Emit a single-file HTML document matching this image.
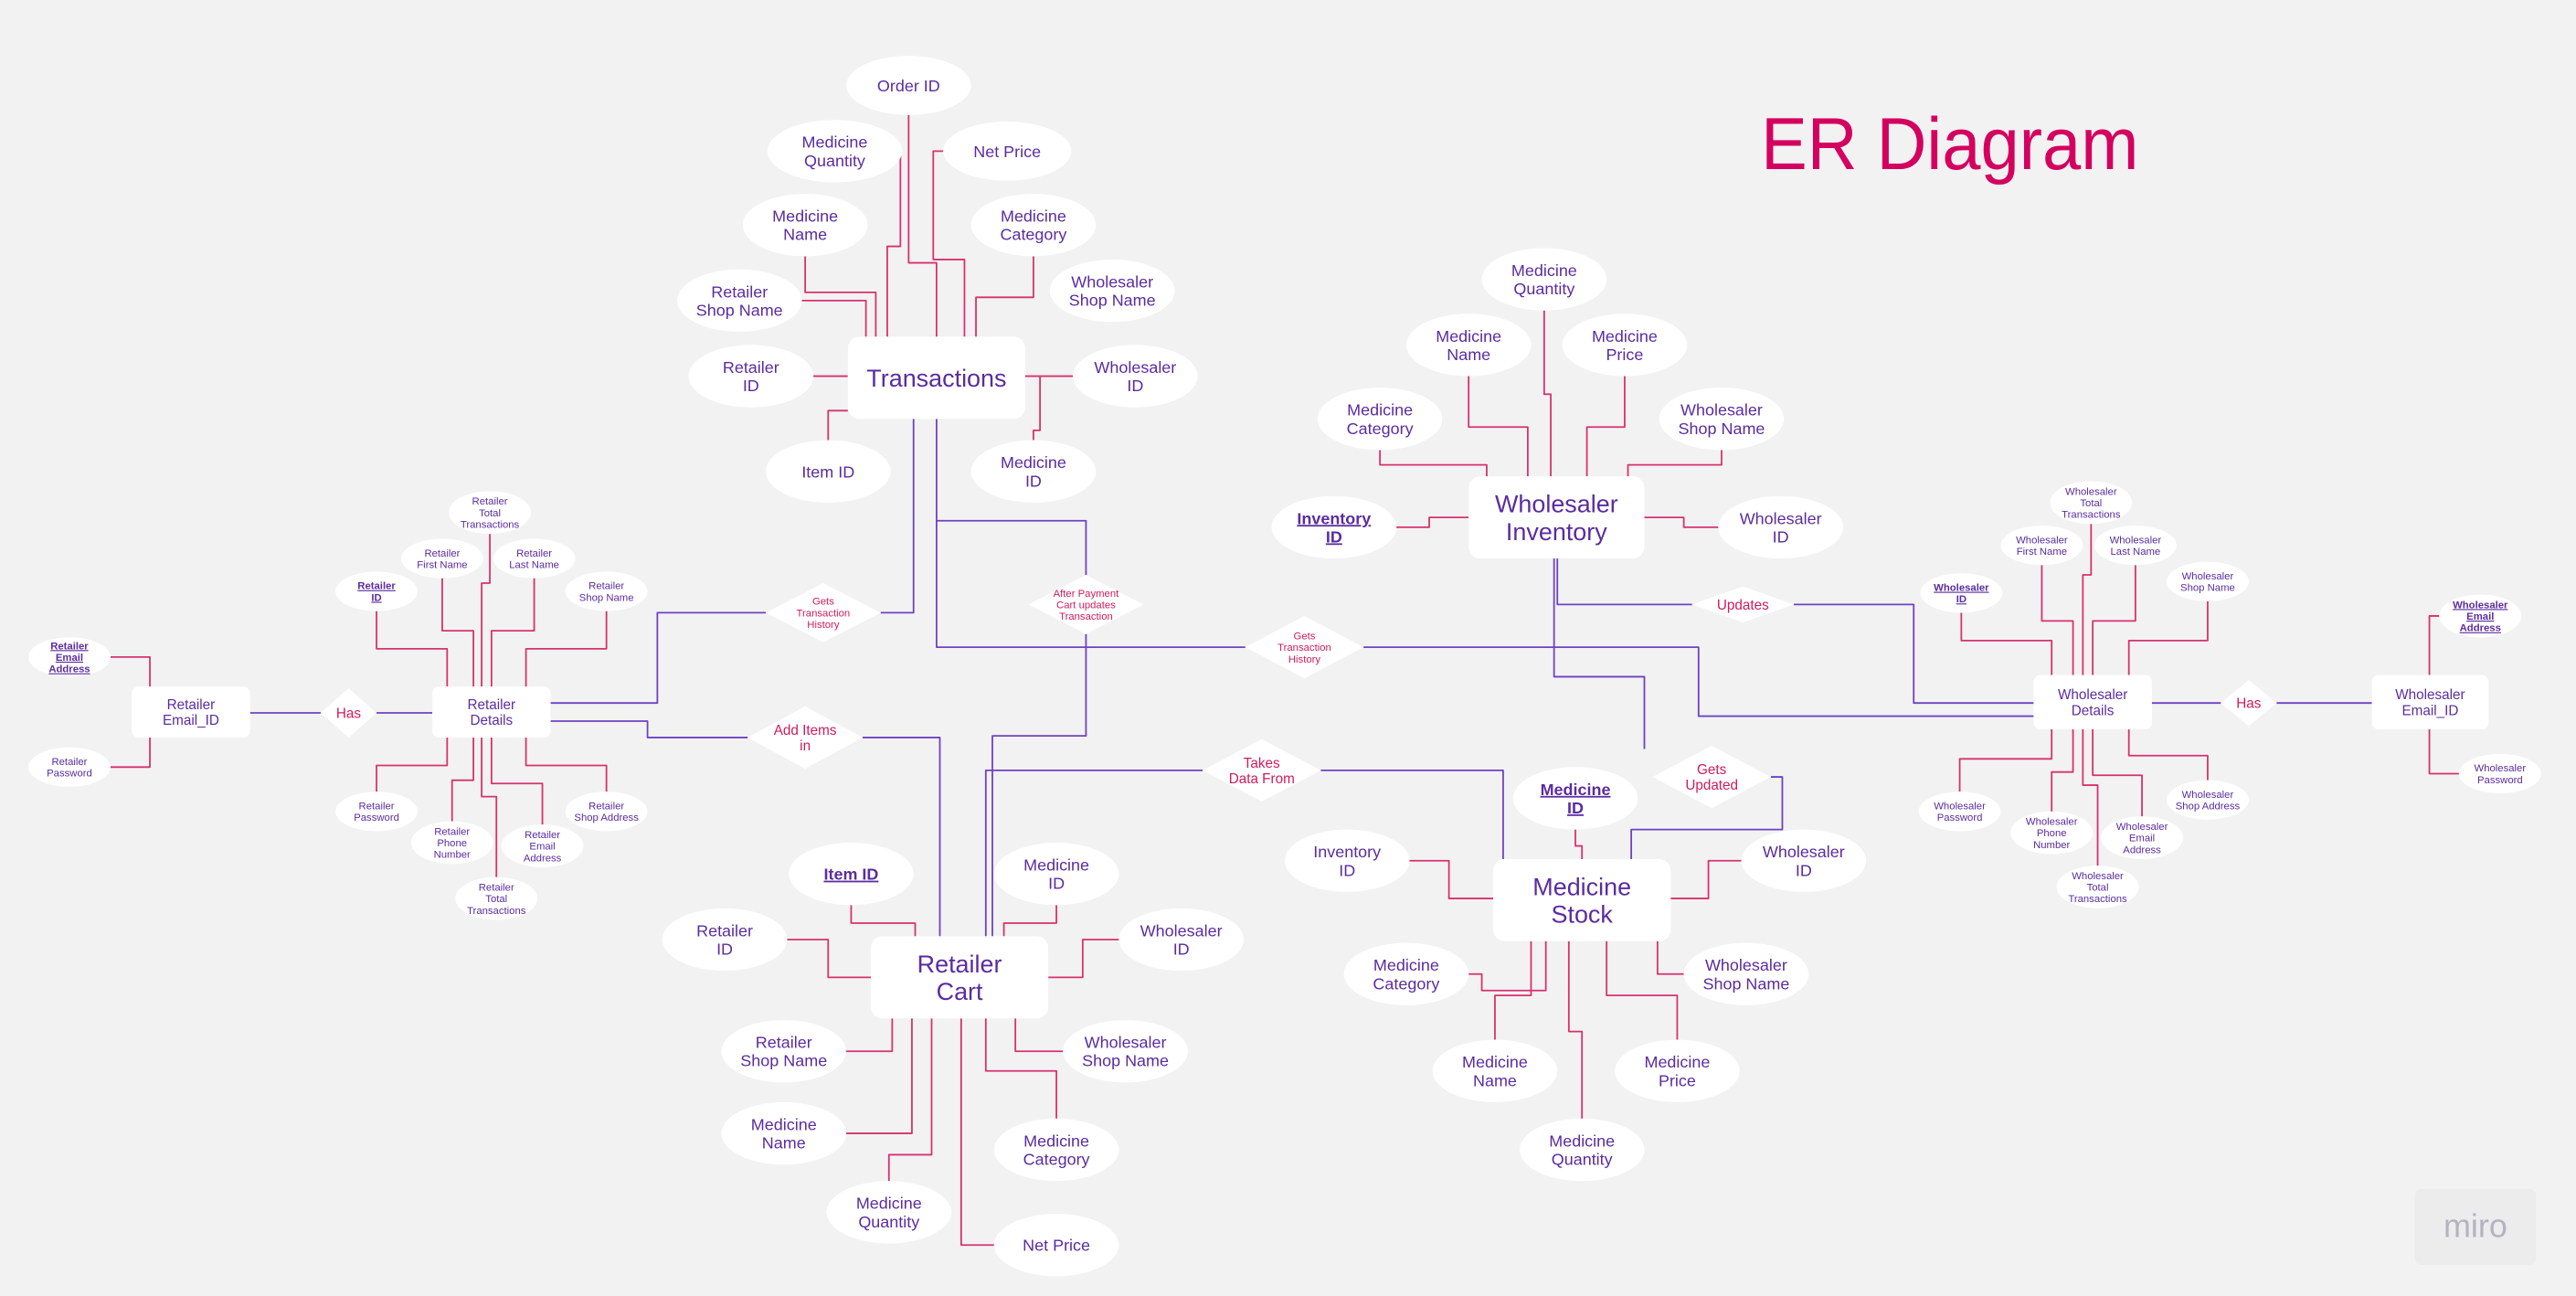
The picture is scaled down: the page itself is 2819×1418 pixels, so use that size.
<!DOCTYPE html>
<html><head><meta charset="utf-8">
<style>
html,body{margin:0;padding:0;background:#f2f2f2;}
svg{display:block;}
text{font-family:"Liberation Sans",sans-serif;}
</style></head>
<body>
<svg id="er" xmlns="http://www.w3.org/2000/svg" width="2819" height="1418" viewBox="0 0 1568 789">
<rect x="0" y="0" width="1568" height="789" fill="#f2f2f2"/>
<text x="1072" y="103" font-size="45" fill="#d4005f" textLength="230" lengthAdjust="spacingAndGlyphs">ER Diagram</text>
<g>
<rect x="1470" y="724" width="74" height="46" rx="4" fill="#ececec"/>
<text x="1507" y="753" font-size="20" fill="#b3b3c2" text-anchor="middle">miro</text>
</g>
<g id="lines"></g>
<g id="shapes"></g>
</svg>
<script>
// entities: [name, x, y, w, h, label, fontSize]
const entities = [
["transactions-entity",516,205,108,50,"Transactions",15],
["wholesaler-inventory-entity",894,290,107,50,"Wholesaler\nInventory",15],
["medicine-stock-entity",909,523,108,50,"Medicine\nStock",15],
["retailer-cart-entity",530,570,108,50,"Retailer\nCart",15],
["retailer-details-entity",263,418,72,31,"Retailer\nDetails",8.5],
["retailer-email-id-entity",80,418,72,31,"Retailer\nEmail_ID",8.5],
["wholesaler-details-entity",1238,411,72,33,"Wholesaler\nDetails",8.5],
["wholesaler-email-id-entity",1444,411,71,33,"Wholesaler\nEmail_ID",8.5]
];
// attributes: [name, cx, cy, rx, ry, label, fontSize, key]
const attrs = [
["order-id",553,52,38,18,"Order ID",10,0],
["t-medicine-quantity",508,92,41,19,"Medicine\nQuantity",10,0],
["t-net-price",613,92,39,18,"Net Price",10,0],
["t-medicine-name",490,137,38,19,"Medicine\nName",10,0],
["t-medicine-category",629,137,38,19,"Medicine\nCategory",10,0],
["t-retailer-shop-name",450,183,38,19,"Retailer\nShop Name",10,0],
["t-wholesaler-shop-name",677,177,38,19,"Wholesaler\nShop Name",10,0],
["t-retailer-id",457,229,38,19,"Retailer\nID",10,0],
["t-wholesaler-id",691,229,38,19,"Wholesaler\nID",10,0],
["t-item-id",504,287,38,19,"Item ID",10,0],
["t-medicine-id",629,287,38,19,"Medicine\nID",10,0],
["wi-medicine-quantity",940,170,38,19,"Medicine\nQuantity",10,0],
["wi-medicine-name",894,210,38,19,"Medicine\nName",10,0],
["wi-medicine-price",989,210,38,19,"Medicine\nPrice",10,0],
["wi-medicine-category",840,255,38,19,"Medicine\nCategory",10,0],
["wi-wholesaler-shop-name",1048,255,38,19,"Wholesaler\nShop Name",10,0],
["wi-inventory-id",812,321,38,19,"Inventory\nID",10,1],
["wi-wholesaler-id",1084,321,38,19,"Wholesaler\nID",10,0],
["ms-medicine-id",959,486,38,19,"Medicine\nID",10,1],
["ms-inventory-id",820,524,38,19,"Inventory\nID",10,0],
["ms-wholesaler-id",1098,524,38,19,"Wholesaler\nID",10,0],
["ms-medicine-category",856,593,38,19,"Medicine\nCategory",10,0],
["ms-wholesaler-shop-name",1063,593,38,19,"Wholesaler\nShop Name",10,0],
["ms-medicine-name",910,652,38,19,"Medicine\nName",10,0],
["ms-medicine-price",1021,652,38,19,"Medicine\nPrice",10,0],
["ms-medicine-quantity",963,700,38,19,"Medicine\nQuantity",10,0],
["rc-item-id",518,532,38,19,"Item ID",10,1],
["rc-medicine-id",643,532,38,19,"Medicine\nID",10,0],
["rc-retailer-id",441,572,38,19,"Retailer\nID",10,0],
["rc-wholesaler-id",719,572,38,19,"Wholesaler\nID",10,0],
["rc-retailer-shop-name",477,640,38,19,"Retailer\nShop Name",10,0],
["rc-wholesaler-shop-name",685,640,38,19,"Wholesaler\nShop Name",10,0],
["rc-medicine-name",477,690,38,19,"Medicine\nName",10,0],
["rc-medicine-category",643,700,38,19,"Medicine\nCategory",10,0],
["rc-medicine-quantity",541,738,38,19,"Medicine\nQuantity",10,0],
["rc-net-price",643,758,38,19,"Net Price",10,0],
["rd-total-transactions",298,312,25,13,"Retailer\nTotal\nTransactions",6.3,0],
["rd-first-name",269,340,25,12,"Retailer\nFirst Name",6.3,0],
["rd-last-name",325,340,25,12,"Retailer\nLast Name",6.3,0],
["rd-retailer-id",229,360,25,12,"Retailer\nID",6.3,1],
["rd-shop-name",369,360,25,12,"Retailer\nShop Name",6.3,0],
["re-email-address",42,400,25,12,"Retailer\nEmail\nAddress",6.3,1],
["re-password",42,467,25,12,"Retailer\nPassword",6.3,0],
["rd-password",229,494,25,12,"Retailer\nPassword",6.3,0],
["rd-phone-number",275,513,25,13,"Retailer\nPhone\nNumber",6.3,0],
["rd-email-address",330,515,25,13,"Retailer\nEmail\nAddress",6.3,0],
["rd-shop-address",369,494,25,12,"Retailer\nShop Address",6.3,0],
["rd-total-transactions-2",302,547,25,13,"Retailer\nTotal\nTransactions",6.3,0],
["wd-total-transactions",1273,306,25,13,"Wholesaler\nTotal\nTransactions",6.3,0],
["wd-first-name",1243,332,25,12,"Wholesaler\nFirst Name",6.3,0],
["wd-last-name",1300,332,25,12,"Wholesaler\nLast Name",6.3,0],
["wd-wholesaler-id",1194,361,25,12,"Wholesaler\nID",6.3,1],
["wd-shop-name",1344,354,25,12,"Wholesaler\nShop Name",6.3,0],
["we-email-address",1510,375,25,13,"Wholesaler\nEmail\nAddress",6.3,1],
["we-password",1522,471,25,12,"Wholesaler\nPassword",6.3,0],
["wd-password",1193,494,25,12,"Wholesaler\nPassword",6.3,0],
["wd-phone-number",1249,507,25,13,"Wholesaler\nPhone\nNumber",6.3,0],
["wd-email-address",1304,510,25,13,"Wholesaler\nEmail\nAddress",6.3,0],
["wd-shop-address",1344,487,25,12,"Wholesaler\nShop Address",6.3,0],
["wd-total-transactions-2",1277,540,25,13,"Wholesaler\nTotal\nTransactions",6.3,0]
];
// relationships: [name, cx, cy, w, h, label, fontSize]
const rels = [
["gets-transaction-history-retailer",501,373,70,36,"Gets\nTransaction\nHistory",6.3],
["after-payment-cart-updates",661,368,70,36,"After Payment\nCart updates\nTransaction",6.3],
["gets-transaction-history-wholesaler",794,394,72,38,"Gets\nTransaction\nHistory",6.3],
["updates-relationship",1061,368,62,22,"Updates",8.5],
["add-items-in",490,449,70,38,"Add Items\nin",8.5],
["takes-data-from",768,469,72,38,"Takes\nData From",8.5],
["gets-updated",1042,473,72,38,"Gets\nUpdated",8.5],
["retailer-has",212,434,34,30,"Has",8.5],
["wholesaler-has",1369,428,34,28,"Has",8.5]
];
const pinkLines = [
[[553,70],[553,160],[570,160],[570,205]],
[[548,92],[548,150],[540,150],[540,205]],
[[575,92],[568,92],[568,158],[587,158],[587,205]],
[[629,156],[629,181],[594,181],[594,205]],
[[490,156],[490,178],[533,178],[533,205]],
[[488,183],[527,183],[527,205]],
[[495,229],[516,229]],
[[624,229],[653,229]],
[[629,268],[629,262],[633,262],[633,229]],
[[504,268],[504,250],[516,250]],
[[940,189],[940,240],[944,240],[944,290]],
[[894,229],[894,260],[930,260],[930,290]],
[[989,229],[989,260],[966,260],[966,290]],
[[840,274],[840,283],[905,283],[905,290]],
[[1048,274],[1048,283],[991,283],[991,290]],
[[850,321],[870,321],[870,315],[894,315]],
[[1046,321],[1025,321],[1025,315],[1001,315]],
[[959,505],[959,515],[963,515],[963,523]],
[[858,524],[882,524],[882,547],[909,547]],
[[1060,524],[1040,524],[1040,547],[1017,547]],
[[894,593],[902,593],[902,603],[941,603],[941,573]],
[[1025,593],[1009,593],[1009,573]],
[[910,633],[910,606],[932,606],[932,573]],
[[1021,633],[1021,606],[978,606],[978,573]],
[[963,681],[963,628],[955,628],[955,573]],
[[518,551],[518,562],[557,562],[557,570]],
[[643,551],[643,562],[611,562],[611,570]],
[[479,572],[504,572],[504,595],[530,595]],
[[681,572],[659,572],[659,595],[638,595]],
[[515,640],[543,640],[543,620]],
[[647,640],[618,640],[618,620]],
[[515,690],[555,690],[555,620]],
[[643,681],[643,652],[600,652],[600,620]],
[[541,719],[541,703],[567,703],[567,620]],
[[605,758],[585,758],[585,620]],
[[229,372],[229,395],[272,395],[272,418]],
[[269,352],[269,384],[288,384],[288,418]],
[[298,325],[298,355],[293,355],[293,418]],
[[325,352],[325,384],[299,384],[299,418]],
[[369,372],[369,395],[320,395],[320,418]],
[[229,482],[229,466],[272,466],[272,449]],
[[275,500],[275,475],[288,475],[288,449]],
[[302,534],[302,485],[293,485],[293,449]],
[[330,502],[330,477],[299,477],[299,449]],
[[369,482],[369,466],[320,466],[320,449]],
[[67,400],[91,400],[91,418]],
[[67,467],[91,467],[91,449]],
[[1194,373],[1194,390],[1249,390],[1249,411]],
[[1243,344],[1243,378],[1262,378],[1262,411]],
[[1273,319],[1273,350],[1268,350],[1268,411]],
[[1300,344],[1300,378],[1274,378],[1274,411]],
[[1344,366],[1344,390],[1296,390],[1296,411]],
[[1193,482],[1193,462],[1249,462],[1249,444]],
[[1249,494],[1249,470],[1262,470],[1262,444]],
[[1277,527],[1277,478],[1268,478],[1268,444]],
[[1304,497],[1304,472],[1274,472],[1274,444]],
[[1344,475],[1344,460],[1296,460],[1296,444]],
[[1485,375],[1479,375],[1479,411]],
[[1497,471],[1479,471],[1479,444]]
];
const purpleLines = [
[[556,255],[556,373],[536,373]],
[[570,255],[570,394],[758,394]],
[[570,317],[661,317],[661,350]],
[[661,386],[661,448],[604,448],[604,570]],
[[335,428],[400,428],[400,373],[466,373]],
[[335,439],[394,439],[394,449],[455,449]],
[[525,449],[572,449],[572,570]],
[[732,469],[600,469],[600,570]],
[[804,469],[915,469],[915,523]],
[[830,394],[1034,394],[1034,436],[1238,436]],
[[948,340],[948,368],[1030,368]],
[[1092,368],[1165,368],[1165,428],[1238,428]],
[[946,340],[946,412],[1001,412],[1001,456]],
[[1078,473],[1085,473],[1085,505],[993,505],[993,523]],
[[152,434],[195,434]],[[229,434],[263,434]],
[[1310,428],[1352,428]],[[1386,428],[1444,428]]
];
const NS="http://www.w3.org/2000/svg";
const LG=document.getElementById('lines'), SG=document.getElementById('shapes');
function mk(tag,parent){const e=document.createElementNS(NS,tag);parent.appendChild(e);return e;}
function addText(g,cx,cy,label,fs,color,bold,under){
  const lines=label.split('\n');const lh=fs*1.12;
  const t=mk('text',g);
  t.setAttribute('text-anchor','middle');t.setAttribute('font-size',fs);t.setAttribute('fill',color);
  if(bold)t.setAttribute('font-weight','bold');
  if(under)t.setAttribute('text-decoration','underline');
  lines.forEach((s,i)=>{const ts=mk('tspan',t);ts.setAttribute('x',cx);
    ts.setAttribute('y',cy+(i-(lines.length-1)/2)*lh+fs*0.36);ts.textContent=s;});
  return t;
}
function drawLines(arr,color,prefix){
  arr.forEach((pts,i)=>{const p=mk('polyline',LG);
    p.setAttribute('points',pts.map(q=>q.join(',')).join(' '));
    p.setAttribute('fill','none');p.setAttribute('stroke',color);p.setAttribute('stroke-width','1');
    p.setAttribute('stroke-linejoin','round');
    
    
  });
}
drawLines(pinkLines,'#d6336c','attribute');
drawLines(purpleLines,'#6f42c1','relationship');
entities.forEach(e=>{const g=mk('g',SG);
  
  
  const r=mk('rect',g);r.setAttribute('x',e[1]);r.setAttribute('y',e[2]);r.setAttribute('width',e[3]);r.setAttribute('height',e[4]);
  r.setAttribute('rx',e[6]>10?7:4);r.setAttribute('fill','#ffffff');
  addText(g,e[1]+e[3]/2,e[2]+e[4]/2,e[5],e[6],'#5b2ca0',false,false);
});
attrs.forEach(a=>{const g=mk('g',SG);
  
  
  const el=mk('ellipse',g);el.setAttribute('cx',a[1]);el.setAttribute('cy',a[2]);el.setAttribute('rx',a[3]);el.setAttribute('ry',a[4]);el.setAttribute('fill','#ffffff');
  addText(g,a[1],a[2],a[5],a[6],'#5b2ca0',a[7]===1,a[7]===1);
});
rels.forEach(r=>{const g=mk('g',SG);
  
  
  const p=mk('polygon',g);const cx=r[1],cy=r[2],w=r[3]/2,h=r[4]/2;
  p.setAttribute('points',`${cx-w},${cy} ${cx},${cy-h} ${cx+w},${cy} ${cx},${cy+h}`);p.setAttribute('fill','#ffffff');
  addText(g,cx,cy,r[5],r[6],'#cf1b5c',false,false);
});
</script>
</body></html>
